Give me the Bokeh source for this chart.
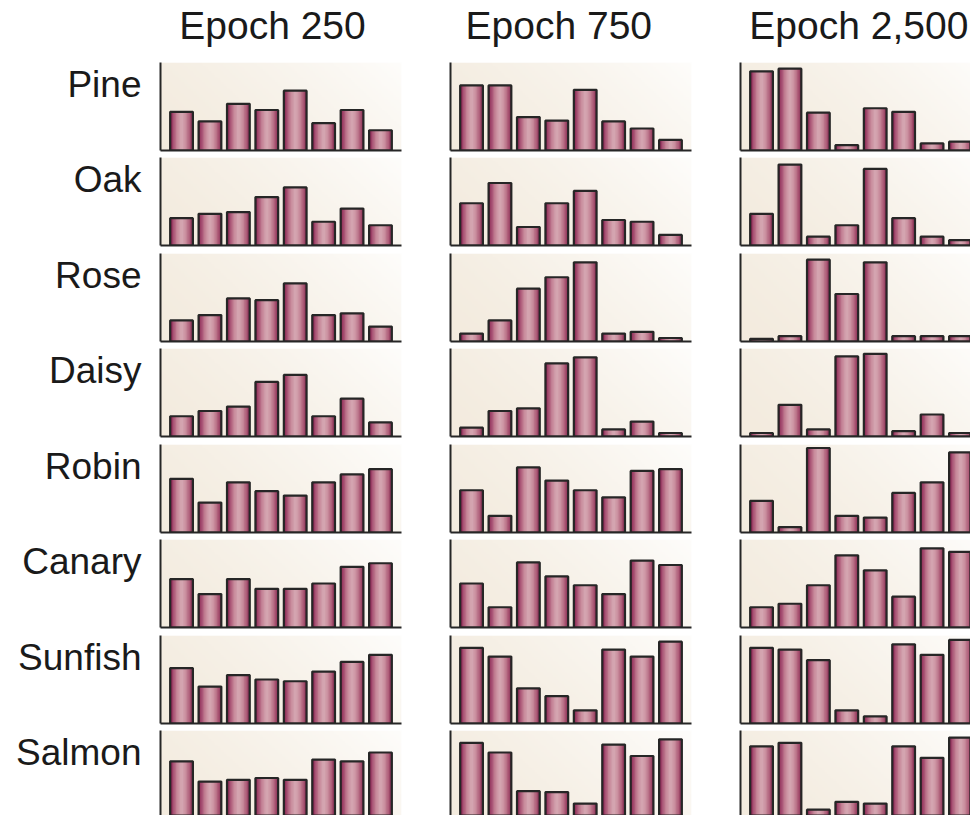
import numpy as np
from bokeh.plotting import figure
from bokeh.layouts import column, row
from bokeh.models import Range1d, FixedTicker, Spacer
from bokeh.core.properties import value
from bokeh.embed import file_html
from bokeh.resources import INLINE

# ---------------- data ----------------
items = ["Pine", "Oak", "Rose", "Daisy", "Robin", "Canary", "Sunfish", "Salmon"]
epochs = ["Epoch 250", "Epoch 750", "Epoch 2,500"]
units = [0, 1, 2, 3, 4, 5, 6, 7]

epoch_250 = [
    [0.44, 0.33, 0.53, 0.46, 0.68, 0.31, 0.46, 0.23],
    [0.31, 0.36, 0.38, 0.55, 0.66, 0.27, 0.42, 0.23],
    [0.24, 0.30, 0.49, 0.47, 0.66, 0.30, 0.32, 0.17],
    [0.23, 0.29, 0.34, 0.62, 0.70, 0.23, 0.43, 0.16],
    [0.61, 0.34, 0.57, 0.47, 0.42, 0.57, 0.66, 0.72],
    [0.55, 0.38, 0.55, 0.44, 0.44, 0.50, 0.69, 0.73],
    [0.63, 0.42, 0.55, 0.50, 0.48, 0.59, 0.70, 0.78],
    [0.65, 0.42, 0.44, 0.46, 0.44, 0.67, 0.65, 0.75],
]
epoch_750 = [
    [0.74, 0.74, 0.38, 0.34, 0.69, 0.33, 0.25, 0.12],
    [0.48, 0.71, 0.21, 0.48, 0.62, 0.29, 0.27, 0.12],
    [0.09, 0.24, 0.60, 0.73, 0.90, 0.09, 0.11, 0.04],
    [0.10, 0.29, 0.32, 0.83, 0.90, 0.08, 0.17, 0.04],
    [0.48, 0.19, 0.74, 0.59, 0.48, 0.40, 0.70, 0.72],
    [0.50, 0.23, 0.74, 0.58, 0.48, 0.38, 0.76, 0.71],
    [0.86, 0.76, 0.40, 0.31, 0.15, 0.84, 0.76, 0.93],
    [0.86, 0.75, 0.31, 0.30, 0.17, 0.84, 0.71, 0.90],
]
epoch_2500 = [
    [0.90, 0.93, 0.43, 0.06, 0.48, 0.44, 0.08, 0.10],
    [0.36, 0.92, 0.10, 0.23, 0.87, 0.31, 0.10, 0.06],
    [0.03, 0.06, 0.93, 0.54, 0.90, 0.06, 0.06, 0.06],
    [0.04, 0.36, 0.08, 0.91, 0.94, 0.06, 0.25, 0.04],
    [0.36, 0.06, 0.96, 0.19, 0.17, 0.45, 0.57, 0.91],
    [0.23, 0.27, 0.48, 0.82, 0.65, 0.35, 0.90, 0.86],
    [0.86, 0.84, 0.72, 0.15, 0.08, 0.90, 0.78, 0.95],
    [0.82, 0.86, 0.10, 0.19, 0.17, 0.82, 0.69, 0.92],
]
epoch_values = [epoch_250, epoch_750, epoch_2500]

# ---------------- layout / style ----------------
FONT = "Liberation Sans"
TEXT_COLOR = "#1a1a1a"
AXIS_COLOR = "#262626"

LABEL_W = 148
COL_W = [278, 290, 254]
COL_BL = [12, 24, 24]
COL_BR = [25, 25, 0]
FULL_FRAME_W = 241
PX_PER_UNIT = 28.42
X0 = -0.74
HEADER_H = 58
FRAME_H = 88
ROW_H = [95, 96, 95, 96, 95, 96, 95, 89]
BORDER_T = 4
BAR_W = 0.80
N_STRIPS = 16
TITLE_X = [-0.08, -0.21, -0.43]
TITLE_Y = 1 - 24.7 / HEADER_H
LABEL_Y = 1 - 22.0 / FRAME_H

shade_stops = [
    (0.00, (112, 14, 62)),
    (0.10, (158, 66, 104)),
    (0.30, (198, 134, 152)),
    (0.50, (214, 170, 180)),
    (0.68, (202, 144, 159)),
    (0.86, (172, 90, 118)),
    (1.00, (126, 34, 76)),
]


def shade(f):
    for (f0, c0), (f1, c1) in zip(shade_stops[:-1], shade_stops[1:]):
        if f0 <= f <= f1:
            t = (f - f0) / (f1 - f0)
            c = [int(round(a + (b - a) * t)) for a, b in zip(c0, c1)]
            return "#%02x%02x%02x" % tuple(c)
    return "#%02x%02x%02x" % shade_stops[-1][1]


strip_colors = [shade((k + 0.5) / N_STRIPS) for k in range(N_STRIPS)]

# background gradient (cream at lower-left, near white at upper-right)
nx, ny = 160, 48
xf = np.linspace(0, 1, nx)[None, :]
yf = np.linspace(0, 1, ny)[:, None]
tt = np.clip(0.72 * xf + 0.28 * yf, 0, 1) ** 1.4
c_lo = np.array([243, 235, 222])
c_hi = np.array([254, 253, 251])
BG = np.empty((ny, nx), dtype=np.uint32)
bgv = BG.view(dtype=np.uint8).reshape((ny, nx, 4))
for ch in range(3):
    bgv[:, :, ch] = (c_lo[ch] + (c_hi[ch] - c_lo[ch]) * tt).astype(np.uint8)
bgv[:, :, 3] = 255


def base_fig(width, height, xr, yr, bl, br, bt, bb):
    p = figure(width=width, height=height, x_range=xr, y_range=yr,
               output_backend="svg", toolbar_location=None,
               min_border=0, min_border_left=bl, min_border_right=br,
               min_border_top=bt, min_border_bottom=bb,
               outline_line_color=None, background_fill_color="white",
               border_fill_color="white")
    p.xgrid.visible = False
    p.ygrid.visible = False
    return p


def row_frame(ri):
    last = ri == len(items) - 1
    fh = ROW_H[ri] - BORDER_T if last else FRAME_H
    return fh, 1 - fh / FRAME_H, ROW_H[ri] - BORDER_T - fh


def panel(ci, ri):
    vals = epoch_values[ci][ri]
    frame_w = COL_W[ci] - COL_BL[ci] - COL_BR[ci]
    fh, y0, bb = row_frame(ri)
    p = base_fig(COL_W[ci], ROW_H[ri],
                 Range1d(X0, X0 + frame_w / PX_PER_UNIT), Range1d(y0, 1),
                 COL_BL[ci], COL_BR[ci], BORDER_T, bb)
    for ax in p.axis:
        ax.ticker = FixedTicker(ticks=[])
        ax.major_tick_out = 0
        ax.major_tick_in = 0
        ax.minor_tick_out = 0
        ax.minor_tick_in = 0
        ax.major_label_standoff = 0
        ax.major_label_text_font_size = "0px"
        ax.axis_line_color = AXIS_COLOR
        ax.axis_line_width = 2
    if ri == len(items) - 1:
        p.xaxis.visible = False
    p.image_rgba(image=[BG], x=X0, y=0, dw=FULL_FRAME_W / PX_PER_UNIT, dh=1)
    # cylinder shading: each strip runs from its left edge to the bar's right edge,
    # later strips overlay earlier ones, so no seams show
    xs, ws, tops, cols = [], [], [], []
    sw = BAR_W / N_STRIPS
    for u, v in zip(units, vals):
        right = u + BAR_W / 2
        for k in range(N_STRIPS):
            left = u - BAR_W / 2 + k * sw
            xs.append((left + right) / 2)
            ws.append(right - left)
            tops.append(v)
            cols.append(strip_colors[k])
    p.vbar(x=xs, top=tops, bottom=0, width=ws, fill_color=cols, line_color=None)
    p.vbar(x=units, top=vals, bottom=0, width=BAR_W, fill_color=None,
           line_color=AXIS_COLOR, line_width=2.2)
    return p


def label_fig(ri):
    fh, y0, bb = row_frame(ri)
    p = base_fig(LABEL_W, ROW_H[ri], Range1d(0, LABEL_W), Range1d(y0, 1),
                 0, 0, BORDER_T, bb)
    p.axis.visible = False
    p.text(x=[LABEL_W - 7], y=[LABEL_Y], text=[items[ri]], text_align="right",
           text_baseline="alphabetic", text_font=value(FONT),
           text_font_size="37px", text_color=TEXT_COLOR)
    return p


def header_fig(ci):
    frame_w = COL_W[ci] - COL_BL[ci] - COL_BR[ci]
    p = base_fig(COL_W[ci], HEADER_H,
                 Range1d(X0, X0 + frame_w / PX_PER_UNIT), Range1d(0, 1),
                 COL_BL[ci], COL_BR[ci], 0, 0)
    p.axis.visible = False
    p.text(x=[TITLE_X[ci]], y=[TITLE_Y], text=[epochs[ci]], text_align="left",
           text_baseline="alphabetic", text_font=value(FONT),
           text_font_size="39px", text_color=TEXT_COLOR)
    return p


rows = [row(Spacer(width=LABEL_W, height=HEADER_H),
            *[header_fig(ci) for ci in range(len(epochs))])]
for ri in range(len(items)):
    rows.append(row(label_fig(ri), *[panel(ci, ri) for ci in range(len(epochs))]))

layout = column(*rows)

open("out.html", "w").write(file_html(layout, INLINE))
